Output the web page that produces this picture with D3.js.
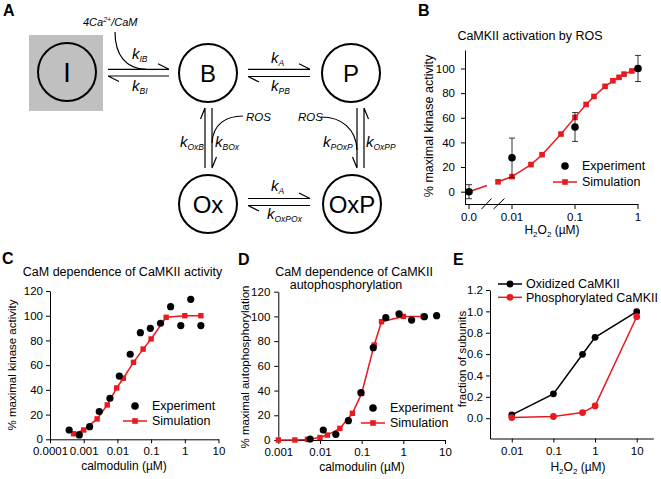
<!DOCTYPE html>
<html><head><meta charset="utf-8">
<script src="https://cdn.jsdelivr.net/npm/d3@7"></script>
<style>
body{margin:0;background:#fff;}
svg text{font-family:"Liberation Sans",Arial,Helvetica,sans-serif;fill:#000;}
</style></head><body>
<svg id="c" width="661" height="479"></svg>
<script>
// ---------------- DATA ----------------
// Panel A: scheme
const nodeLabels = ["I","B","P","Ox","OxP"];
// Panel B
const bExpX = [0, 0.01, 0.1, 1];
const bExpY = [0, 27.5, 52.5, 100];
const bExpErr = [5.7, 16, 11.7, 10.6];
const bSimZeroY = 0;
const bSimX = [0.006, 0.01, 0.02, 0.03, 0.06, 0.1, 0.15, 0.2, 0.3, 0.4, 0.5, 0.6, 0.8, 1];
const bSimY = [8, 12.2, 22, 30, 46.8, 60.3, 70.8, 77.3, 85.5, 90, 92.8, 95.4, 98, 100];
const bXTickVals = [0, 0.01, 0.1, 1];
const bXTickLabels = ["0.0", "0.01", "0.1", "1"];
const bYTicks = [0, 20, 40, 60, 80, 100];
// Panel C
const cExpX = [0.00037, 0.00074, 0.0015, 0.0029, 0.006, 0.0114, 0.024, 0.048, 0.095, 0.19, 0.38, 0.76, 1.5, 3.0];
const cExpY = [7.5, 3.5, 10.2, 22.4, 33.2, 51.2, 68.8, 86.3, 89.8, 93.9, 107.3, 92, 113.3, 92];
const cSimX = [0.0005, 0.001, 0.0025, 0.005, 0.0095, 0.015, 0.03, 0.058, 0.1, 0.28, 1, 3];
const cSimY = [4.5, 7.5, 16.5, 27.8, 41.5, 49.4, 62.3, 73, 81.2, 98.7, 100, 100];
const cXTickVals = [0.0001, 0.001, 0.01, 0.1, 1, 10];
const cXTickLabels = ["0.0001", "0.001", "0.01", "0.1", "1", "10"];
const cdYTicks = [0, 20, 40, 60, 80, 100, 120];
// Panel D
const dExpX = [0.0058, 0.012, 0.024, 0.048, 0.096, 0.19, 0.38, 0.79, 1.58, 3.2, 6.3];
const dExpY = [0.8, 8.1, 4.6, 15.6, 38.3, 74.7, 99, 102, 97, 99.8, 100.6];
const dSimX = [0.001, 0.0025, 0.005, 0.01, 0.015, 0.03, 0.06, 0.1, 0.2, 0.3, 1, 3];
const dSimY = [0, 0, 0.5, 2, 4, 9.4, 21.6, 37.7, 76.9, 95.7, 100, 100];
const dXTickVals = [0.001, 0.01, 0.1, 1, 10];
const dXTickLabels = ["0.001", "0.01", "0.1", "1", "10"];
// Panel E
const eX = [0.01, 0.1, 0.5, 1, 10];
const eOx = [0.031, 0.228, 0.598, 0.757, 0.997];
const ePh = [0.006, 0.016, 0.053, 0.115, 0.95];
const eXTickVals = [0.01, 0.1, 1, 10];
const eXTickLabels = ["0.01", "0.1", "1", "10"];
const eYTicks = [0, 0.2, 0.4, 0.6, 0.8, 1.0, 1.2];
const eSeriesNames = ["Oxidized CaMKII", "Phosphorylated CaMKII"];
const legendNames = ["Experiment", "Simulation"];

// ---------------- DRAW ----------------
const RED = "#e8191f";
const TICK_FS = 11.5;
const svg = d3.select("#c");
const zip = (xs, ys) => xs.map((x, i) => [x, ys[i]]);

function styleAxis(g) {
  g.attr("font-size", TICK_FS).attr("font-family", null);
  g.selectAll(".domain").attr("stroke", "#000").attr("stroke-width", 1);
  g.selectAll(".tick line").attr("stroke", "#000");
  g.selectAll(".tick text").attr("fill", "#000");
}
function yAxis(x, scale, ticks, fmt, pad) {
  const g = svg.append("g").attr("transform", `translate(${x},0)`)
    .call(d3.axisLeft(scale).tickValues(ticks).tickFormat(fmt).tickSizeInner(4).tickSizeOuter(0).tickPadding(pad || 3));
  styleAxis(g);
  return g;
}
function xAxis(y, scale, ticks, labels) {
  const g = svg.append("g").attr("transform", `translate(0,${y})`)
    .call(d3.axisBottom(scale).tickValues(ticks).tickFormat((d, i) => labels[i]).tickSizeInner(4).tickSizeOuter(0).tickPadding(4));
  styleAxis(g);
  return g;
}
function panelLabel(x, y, t) {
  svg.append("text").attr("x", x).attr("y", y).attr("font-size", 16).attr("font-weight", "bold").text(t);
}
function yLabel(x, y, t, fs) {
  svg.append("text").attr("transform", `translate(${x},${y}) rotate(-90)`).attr("text-anchor", "middle")
    .attr("font-size", fs || 11.5).text(t);
}
function h2o2(x, y) {
  const t = svg.append("text").attr("x", x).attr("y", y).attr("text-anchor", "middle").attr("font-size", 12);
  t.append("tspan").text("H");
  t.append("tspan").attr("font-size", 8).attr("dy", 3).text("2");
  t.append("tspan").attr("dy", -3).text("O");
  t.append("tspan").attr("font-size", 8).attr("dy", 3).text("2");
  t.append("tspan").attr("dy", -3).text(" (\u00b5M)");
}
function drawLine(pts, xs, ys, color, w) {
  svg.append("path").datum(pts).attr("fill", "none").attr("stroke", color).attr("stroke-width", w || 1.5)
    .attr("d", d3.line().x(d => xs(d[0])).y(d => ys(d[1])));
}
function squares(pts, xs, ys, s) {
  svg.append("g").selectAll("rect").data(pts).join("rect")
    .attr("x", d => xs(d[0]) - s / 2).attr("y", d => ys(d[1]) - s / 2)
    .attr("width", s).attr("height", s).attr("fill", RED);
}
function dots(pts, xs, ys, r, color) {
  svg.append("g").selectAll("circle").data(pts).join("circle")
    .attr("cx", d => xs(d[0])).attr("cy", d => ys(d[1])).attr("r", r).attr("fill", color);
}
function legend(x0, y0, dy, fs) {
  svg.append("circle").attr("cx", x0 + 12).attr("cy", y0).attr("r", 3.8).attr("fill", "#000");
  svg.append("text").attr("x", x0 + 29).attr("y", y0).attr("dy", "0.35em").attr("font-size", fs).text(legendNames[0]);
  svg.append("line").attr("x1", x0).attr("x2", x0 + 24).attr("y1", y0 + dy).attr("y2", y0 + dy)
    .attr("stroke", RED).attr("stroke-width", 1.5);
  svg.append("rect").attr("x", x0 + 12 - 2.8).attr("y", y0 + dy - 2.8).attr("width", 5.6).attr("height", 5.6).attr("fill", RED);
  svg.append("text").attr("x", x0 + 29).attr("y", y0 + dy).attr("dy", "0.35em").attr("font-size", fs).text(legendNames[1]);
}

// ===== Panel A: scheme =====
panelLabel(3, 16, "A");
const A = svg.append("g");
const nodePos = {I: [67, 72], B: [208, 73], P: [351, 73], Ox: [208, 204], OxP: [352, 204]};
A.append("rect").attr("x", 29).attr("y", 35).attr("width", 74).attr("height", 76).attr("fill", "#c0c0c0");
nodeLabels.forEach(n => {
  const [cx, cy] = nodePos[n];
  A.append("circle").attr("cx", cx).attr("cy", cy).attr("r", 29).attr("fill", "none")
    .attr("stroke", "#000").attr("stroke-width", 2);
  A.append("text").attr("x", cx).attr("y", cy).attr("dy", "0.36em").attr("text-anchor", "middle")
    .attr("font-size", n === "I" ? 27 : 24).text(n);
});
const stroke = sel => sel.attr("fill", "none").attr("stroke", "#000").attr("stroke-width", 1.2);
function hArrows(x1, x2, yT, yB) {
  A.append("path").call(stroke).attr("d", `M${x1},${yT}H${x2}M${x2 - 11},${yT - 5.5}L${x2},${yT}`);
  A.append("path").call(stroke).attr("d", `M${x2},${yB}H${x1}M${x1 + 11},${yB + 5.5}L${x1},${yB}`);
}
function vArrows(xL, xR, y1, y2, leftUp) {
  if (leftUp) {
    A.append("path").call(stroke).attr("d", `M${xL},${y2}V${y1}M${xL - 4.5},${y1 + 11}L${xL},${y1}`);
    A.append("path").call(stroke).attr("d", `M${xR},${y1}V${y2}M${xR + 4.5},${y2 - 11}L${xR},${y2}`);
  } else {
    A.append("path").call(stroke).attr("d", `M${xL},${y1}V${y2}M${xL - 4.5},${y2 - 11}L${xL},${y2}`);
    A.append("path").call(stroke).attr("d", `M${xR},${y2}V${y1}M${xR + 4.5},${y1 + 11}L${xR},${y1}`);
  }
}
hArrows(108, 169, 69.3, 76);
hArrows(248, 310, 69.3, 76.5);
hArrows(248, 310, 198.5, 205.5);
vArrows(205, 212, 108, 168, true);
vArrows(357, 364, 108, 168, false);
A.append("path").call(stroke).attr("d", "M115,32C115,55 126,69 146,69.3");
A.append("path").call(stroke).attr("d", "M243,116C226,116 213,124 212,143");
A.append("path").call(stroke).attr("d", "M321,117C342,117 356,129 357,150");
function kLabel(x, y, sub) {
  const t = A.append("text").attr("x", x).attr("y", y).attr("font-style", "italic").attr("font-size", 15);
  t.append("tspan").text("k");
  t.append("tspan").attr("font-size", 8.5).attr("dy", 3).text(sub);
}
kLabel(132, 59, "IB");
kLabel(132, 91, "BI");
kLabel(271, 63, "A");
kLabel(271, 91, "PB");
kLabel(271, 191, "A");
kLabel(267, 219, "OxPOx");
kLabel(180, 147, "OxB");
kLabel(215, 147, "BOx");
kLabel(323, 147, "POxP");
kLabel(366, 147, "OxPP");
const cam = A.append("text").attr("x", 83).attr("y", 26).attr("font-style", "italic").attr("font-size", 11);
cam.append("tspan").text("4Ca");
cam.append("tspan").attr("font-size", 7).attr("dy", -4).text("2+");
cam.append("tspan").attr("dy", 4).text("/CaM");
A.append("text").attr("x", 246).attr("y", 121).attr("font-style", "italic").attr("font-size", 11.5).text("ROS");
A.append("text").attr("x", 298).attr("y", 121).attr("font-style", "italic").attr("font-size", 11.5).text("ROS");

// ===== Panel B =====
panelLabel(418, 16, "B");
svg.append("text").attr("x", 530).attr("y", 40).attr("text-anchor", "middle").attr("font-size", 12.5).text("CaMKII activation by ROS");
const yB = d3.scaleLinear().domain([-10, 115]).range([204, 50]);
const xBlog = d3.scaleLog().domain([0.01, 1]).range([512, 638]);
const xBzero = 469;
const xB = v => v === 0 ? xBzero : xBlog(v);
yAxis(465, yB, bYTicks, d3.format("d"), 6);
const bAx = svg.append("g").attr("font-size", TICK_FS);
bAx.append("line").attr("x1", 465).attr("x2", xBlog(1) + 0.5).attr("y1", 204.5).attr("y2", 204.5).attr("stroke", "#000");
bXTickVals.forEach((v, i) => {
  bAx.append("line").attr("x1", xB(v)).attr("x2", xB(v)).attr("y1", 204.5).attr("y2", 209).attr("stroke", "#000");
  bAx.append("text").attr("x", xB(v)).attr("y", 221).attr("text-anchor", "middle").text(bXTickLabels[i]);
});
bAx.append("path").attr("stroke", "#000").attr("fill", "none")
  .attr("d", "M481.5,209L491.5,198.5M493.5,209L504.5,198.5");
yLabel(433, 126, "% maximal kinase activity", 12.5);
h2o2(552, 234);
const bSim = zip(bSimX, bSimY);
const zeroPt = [xBzero, yB(bSimZeroY)];
const firstPt = [xB(bSimX[0]), yB(bSimY[0])];
const tBreak = 0.62;
svg.append("line").attr("x1", zeroPt[0]).attr("y1", zeroPt[1])
  .attr("x2", zeroPt[0] + (firstPt[0] - zeroPt[0]) * tBreak).attr("y2", zeroPt[1] + (firstPt[1] - zeroPt[1]) * tBreak)
  .attr("stroke", RED).attr("stroke-width", 1.5);
drawLine(bSim, xB, yB, RED);
squares(bSim, xB, yB, 5.6);
const bExp = bExpX.map((x, i) => ({x, y: bExpY[i], e: bExpErr[i]}));
const eb = svg.append("g").attr("stroke", "#000").attr("stroke-width", 0.8);
bExp.forEach(d => {
  const cx = xB(d.x);
  eb.append("line").attr("x1", cx).attr("x2", cx).attr("y1", yB(d.y - d.e)).attr("y2", yB(d.y + d.e));
  eb.append("line").attr("x1", cx - 3).attr("x2", cx + 3).attr("y1", yB(d.y - d.e)).attr("y2", yB(d.y - d.e));
  eb.append("line").attr("x1", cx - 3).attr("x2", cx + 3).attr("y1", yB(d.y + d.e)).attr("y2", yB(d.y + d.e));
});
dots(zip(bExpX, bExpY), xB, yB, 3.8, "#000");
legend(553, 166, 16, 12.5);

// ===== Panel C =====
panelLabel(2, 264, "C");
svg.append("text").attr("x", 122.5).attr("y", 276).attr("text-anchor", "middle").attr("font-size", 12.5).text("CaM dependence of CaMKII activity");
const yC = d3.scaleLinear().domain([0, 120]).range([439.3, 291]);
const xC = d3.scaleLog().domain([1e-4, 10]).range([50, 218.5]);
yAxis(50, yC, cdYTicks, d3.format("d"));
xAxis(439.3, xC, cXTickVals, cXTickLabels);
yLabel(16, 365, "% maximal kinase activity");
svg.append("text").attr("x", 124).attr("y", 470).attr("text-anchor", "middle").attr("font-size", 12).text("calmodulin (\u00b5M)");
const cSim = zip(cSimX, cSimY);
drawLine(cSim, xC, yC, RED);
squares(cSim, xC, yC, 5.4);
dots(zip(cExpX, cExpY), xC, yC, 3.6, "#000");
legend(123, 406, 15, 12.5);

// ===== Panel D =====
panelLabel(238, 265, "D");
svg.append("text").attr("x", 354).attr("y", 276).attr("text-anchor", "middle").attr("font-size", 12.5).text("CaM dependence of CaMKII");
svg.append("text").attr("x", 346).attr("y", 289).attr("text-anchor", "middle").attr("font-size", 12.5).text("autophosphorylation");
const yD = d3.scaleLinear().domain([0, 120]).range([440, 291.7]);
const xD = d3.scaleLog().domain([1e-3, 10]).range([278.3, 445]);
yAxis(278.3, yD, cdYTicks, d3.format("d"), 4);
xAxis(440, xD, dXTickVals, dXTickLabels);
yLabel(249, 367, "% maximal autophosphorylation");
svg.append("text").attr("x", 362).attr("y", 471).attr("text-anchor", "middle").attr("font-size", 12).text("calmodulin (\u00b5M)");
const dSim = zip(dSimX, dSimY);
drawLine(dSim, xD, yD, RED);
squares(dSim, xD, yD, 5.4);
dots(zip(dExpX, dExpY), xD, yD, 3.6, "#000");
legend(361, 408, 15, 12.5);

// ===== Panel E =====
panelLabel(453, 265, "E");
const yE = d3.scaleLinear().domain([-0.19, 1.2]).range([438.5, 290]);
const xE = d3.scaleLog().domain([0.003, 25]).range([490, 653.3]);
yAxis(490, yE, eYTicks, d3.format(".1f"));
xAxis(438.5, xE, eXTickVals, eXTickLabels);
yLabel(466, 359, "fraction of subunits");
h2o2(578, 471);
const eOxPts = zip(eX, eOx), ePhPts = zip(eX, ePh);
drawLine(eOxPts, xE, yE, "#000");
drawLine(ePhPts, xE, yE, RED);
dots(eOxPts, xE, yE, 3.4, "#000");
dots(ePhPts, xE, yE, 3.4, RED);
[["#000", 284], [RED, 297.3]].forEach(([c, y], i) => {
  svg.append("line").attr("x1", 498).attr("x2", 522).attr("y1", y).attr("y2", y).attr("stroke", c).attr("stroke-width", 1.5);
  svg.append("circle").attr("cx", 510).attr("cy", y).attr("r", 3.4).attr("fill", c);
  svg.append("text").attr("x", 526).attr("y", y).attr("dy", "0.35em").attr("font-size", 12.5).text(eSeriesNames[i]);
});
</script>
</body></html>
